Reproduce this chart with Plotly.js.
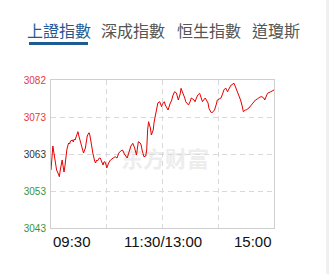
<!DOCTYPE html>
<html>
<head>
<meta charset="utf-8">
<script src="https://cdn.plot.ly/plotly-3.0.1.min.js"></script>
<style>
  html, body { margin: 0; padding: 0; background: #fff; }
  #wrap { position: relative; width: 329px; height: 274px; overflow: hidden; background: #fff; }
  #chart { position: absolute; left: 0; top: 0; width: 329px; height: 274px; }
  .tab { position: absolute; top: 19px; font-family: "Noto Sans CJK TC", "Noto Sans CJK SC", sans-serif;
         font-size: 16px; line-height: 22px; color: #555; white-space: nowrap; }
  .tab.on { color: #1d5b94; }
  #bar { position: absolute; left: 29px; top: 42px; width: 59px; height: 3px; background: #1d5b94; }
  #mark { position: absolute; left: 121px; top: 144px; font-family: "Noto Sans CJK SC", sans-serif;
          font-size: 22px; font-weight: bold; line-height: 26px; color: #ededed; letter-spacing: 0px; }
  #edge { position: absolute; right: 0; top: 0; width: 3px; height: 274px; background: #f0f0f0; }
</style>
</head>
<body>
<div id="wrap">
  <div id="mark">东方财富</div>
  <div id="chart"></div>
  <div class="tab on" style="left:27px">上證指數</div>
  <div class="tab" style="left:101px">深成指數</div>
  <div class="tab" style="left:177px">恒生指數</div>
  <div class="tab" style="left:252px">道瓊斯</div>
  <div id="bar"></div>
  <div id="edge"></div>
</div>
<script>
// Minutes since the 09:30 open (the 11:30–13:00 lunch break is collapsed, 240 trading minutes)
const minutes = [
  0, 1, 2, 3, 4, 5, 6, 8, 9, 10, 11, 12, 13, 14, 15, 16, 17, 18, 19, 20,
  21, 23, 24, 25, 26, 27, 28, 29, 30, 31, 32, 33, 34, 35, 37, 38, 39, 40, 41, 42,
  43, 44, 45, 46, 47, 48, 49, 50, 52, 53, 54, 55, 56, 57, 58, 59, 60, 62, 64, 67,
  69, 71, 73, 75, 77, 79, 82, 84, 85, 86, 88, 90, 92, 93, 94, 96, 97, 98, 100, 102,
  103, 104, 105, 106, 107, 108, 110, 111, 112, 113, 114, 115, 117, 119, 120, 122, 123, 126, 128, 130,
  131, 133, 135, 137, 139, 140, 141, 142, 144, 145, 147, 148, 150, 151, 154, 155, 157, 158, 160, 162,
  163, 165, 166, 169, 170, 172, 173, 175, 176, 178, 179, 181, 183, 185, 186, 188, 190, 192, 194, 197,
  199, 200, 202, 204, 206, 207, 209, 210, 213, 214, 216, 217, 219, 220, 222, 223, 225, 227, 229, 230,
  232, 233, 236, 237, 239, 240
];

// Shanghai Composite index level at each minute
const prices = [
  3058.56, 3061.21, 3064.92, 3063.33, 3061.21, 3059.89, 3058.56, 3057.50, 3056.79, 3058.56,
  3060.42, 3061.21, 3059.62, 3058.03, 3059.62, 3062.27, 3063.86, 3064.92, 3065.71, 3065.45,
  3066.24, 3066.51, 3065.98, 3066.77, 3066.51, 3067.30, 3067.83, 3068.71, 3067.57, 3066.51,
  3065.71, 3064.65, 3063.59, 3063.06, 3064.39, 3066.51, 3067.57, 3068.10, 3068.44, 3067.57,
  3066.51, 3064.65, 3063.06, 3061.74, 3060.95, 3060.42, 3061.21, 3060.95, 3061.74, 3061.74,
  3060.95, 3060.42, 3059.89, 3060.68, 3060.76, 3060.15, 3059.09, 3060.42, 3061.21, 3061.74,
  3062.08, 3061.74, 3063.06, 3063.59, 3063.86, 3062.80, 3061.74, 3063.33, 3064.39, 3064.92,
  3065.63, 3064.39, 3062.53, 3063.86, 3066.06, 3065.71, 3065.18, 3063.86, 3062.08, 3062.27,
  3063.86, 3069.16, 3071.35, 3070.48, 3069.69, 3067.83, 3069.16, 3071.28, 3072.68, 3073.92,
  3074.98, 3076.31, 3076.65, 3075.33, 3076.04, 3076.65, 3075.78, 3074.45, 3076.04, 3077.10,
  3078.16, 3079.30, 3078.96, 3077.10, 3078.69, 3080.20, 3079.49, 3078.96, 3077.63, 3076.65,
  3076.04, 3075.78, 3076.84, 3077.63, 3077.10, 3076.65, 3077.90, 3078.43, 3078.88, 3077.63,
  3076.65, 3077.37, 3077.63, 3076.31, 3074.90, 3073.92, 3073.66, 3074.19, 3074.45, 3076.04,
  3077.10, 3077.37, 3077.63, 3078.96, 3079.75, 3080.28, 3079.30, 3080.28, 3081.08, 3081.53,
  3080.28, 3079.49, 3077.98, 3077.10, 3075.25, 3074.00, 3074.45, 3074.45, 3074.98, 3075.33,
  3076.04, 3076.31, 3076.84, 3077.10, 3077.37, 3077.55, 3077.90, 3077.98, 3077.63, 3077.10,
  3078.43, 3078.88, 3079.22, 3079.30, 3079.62, 3079.75
];

// Price axis: previous close in the middle, two bands above and below
const priceTicks = [3043.2, 3053.0, 3062.8, 3072.6, 3082.4];
const priceLabels = ['3043', '3053', '3063', '3073', '3082'];
const priceLabelColors = ['#3a933a', '#3a933a', '#333333', '#e8383d', '#e8383d'];

// Session time axis
const timeTicks = [0, 60, 120, 180, 240];
const timeLabelPos = [0, 120, 240];
const timeLabels = ['09:30', '11:30/13:00', '15:00'];
const timeAnchors = ['left', 'center', 'right'];

const trace = {
  x: minutes,
  y: prices,
  type: 'scatter',
  mode: 'lines',
  line: { color: '#e60000', width: 1 },
  hoverinfo: 'skip'
};

const annotations = timeLabels.map((t, k) => ({
  x: timeLabelPos[k], xref: 'x',
  y: -0.088, yref: 'paper',
  text: t, showarrow: false,
  xanchor: timeAnchors[k], yanchor: 'middle',
  font: { family: 'Liberation Sans, Arial, sans-serif', size: 15, color: '#111' }
}));

const layout = {
  width: 329, height: 274,
  margin: { l: 51, r: 54.5, t: 79.5, b: 46 },
  paper_bgcolor: 'rgba(0,0,0,0)',
  plot_bgcolor: 'rgba(0,0,0,0)',
  showlegend: false,
  xaxis: {
    range: [0, 240], tickvals: timeTicks, showticklabels: false,
    showgrid: true, gridcolor: '#d9d9d9', griddash: '5px,4px', gridwidth: 1,
    zeroline: false, showline: true, mirror: true, linecolor: '#cfcfcf', linewidth: 1,
    ticks: '', fixedrange: true
  },
  yaxis: {
    range: [priceTicks[0], priceTicks[priceTicks.length - 1]],
    tickvals: priceTicks,
    ticktext: priceLabels.map((l, k) => '<span style="color:' + priceLabelColors[k] + '">' + l + '</span>'),
    tickfont: { family: 'Liberation Sans, Arial, sans-serif', size: 10, color: '#333' },
    showgrid: true, gridcolor: '#d9d9d9', griddash: '5px,4px', gridwidth: 1,
    zeroline: false, showline: true, mirror: true, linecolor: '#cfcfcf', linewidth: 1,
    ticks: '', ticklabelstandoff: 2, fixedrange: true
  },
  annotations: annotations
};

Plotly.newPlot('chart', [trace], layout, { displayModeBar: false, staticPlot: true });
</script>
</body>
</html>
